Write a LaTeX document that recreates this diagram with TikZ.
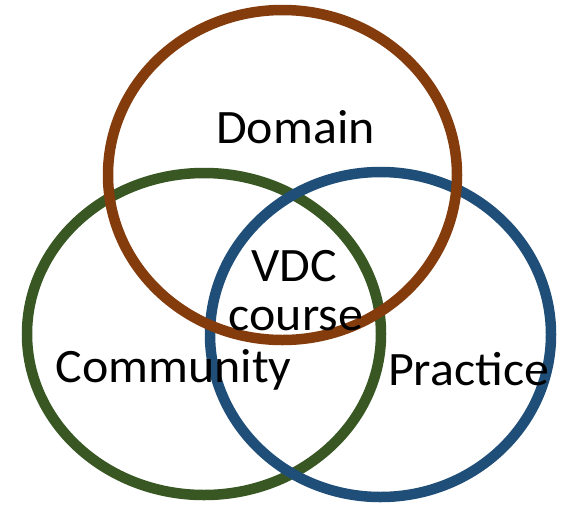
\documentclass[tikz,border=0pt]{standalone}
\usepackage{fontspec}
\setmainfont{Carlito}
\usetikzlibrary{shapes.geometric}
\definecolor{cbrown}{HTML}{843C0C}
\definecolor{cgreen}{HTML}{385723}
\definecolor{cblue}{HTML}{1F4E79}
\newcommand{\wtxt}[1]{\scalebox{1.04}[1]{#1}}
\begin{document}
\begin{tikzpicture}[x=1pt,y=-1pt,
  ring/.style={draw, line width=10.5pt, ellipse, inner sep=0pt, outer sep=0pt},
  lbl/.style={font=\fontsize{48}{52}\selectfont, inner sep=0pt, anchor=base, text=black}]
\useasboundingbox[fill=white] (0,0) rectangle (578,509);
\node[ring, draw=cgreen, minimum width=354pt, minimum height=322pt] (community) at (204,334) {};
\node[ring, draw=cblue, minimum width=341pt, minimum height=325pt] (practice) at (380.5,334.5) {};
\node[ring, draw=cbrown, minimum width=349pt, minimum height=330pt] (domain) at (282.5,175) {};
\node[lbl] (tdomain) at (295.5,143) {\wtxt{Domain}};
\node[lbl] (tvdc) at (294,281) {\wtxt{VDC}};
\node[lbl] (tcourse) at (296,330) {\wtxt{course}};
\node[lbl] (tcommunity) at (173.5,382) {\wtxt{Community}};
\node[lbl] (tpractice) at (468.5,385) {\wtxt{Practice}};
\end{tikzpicture}
\end{document}
